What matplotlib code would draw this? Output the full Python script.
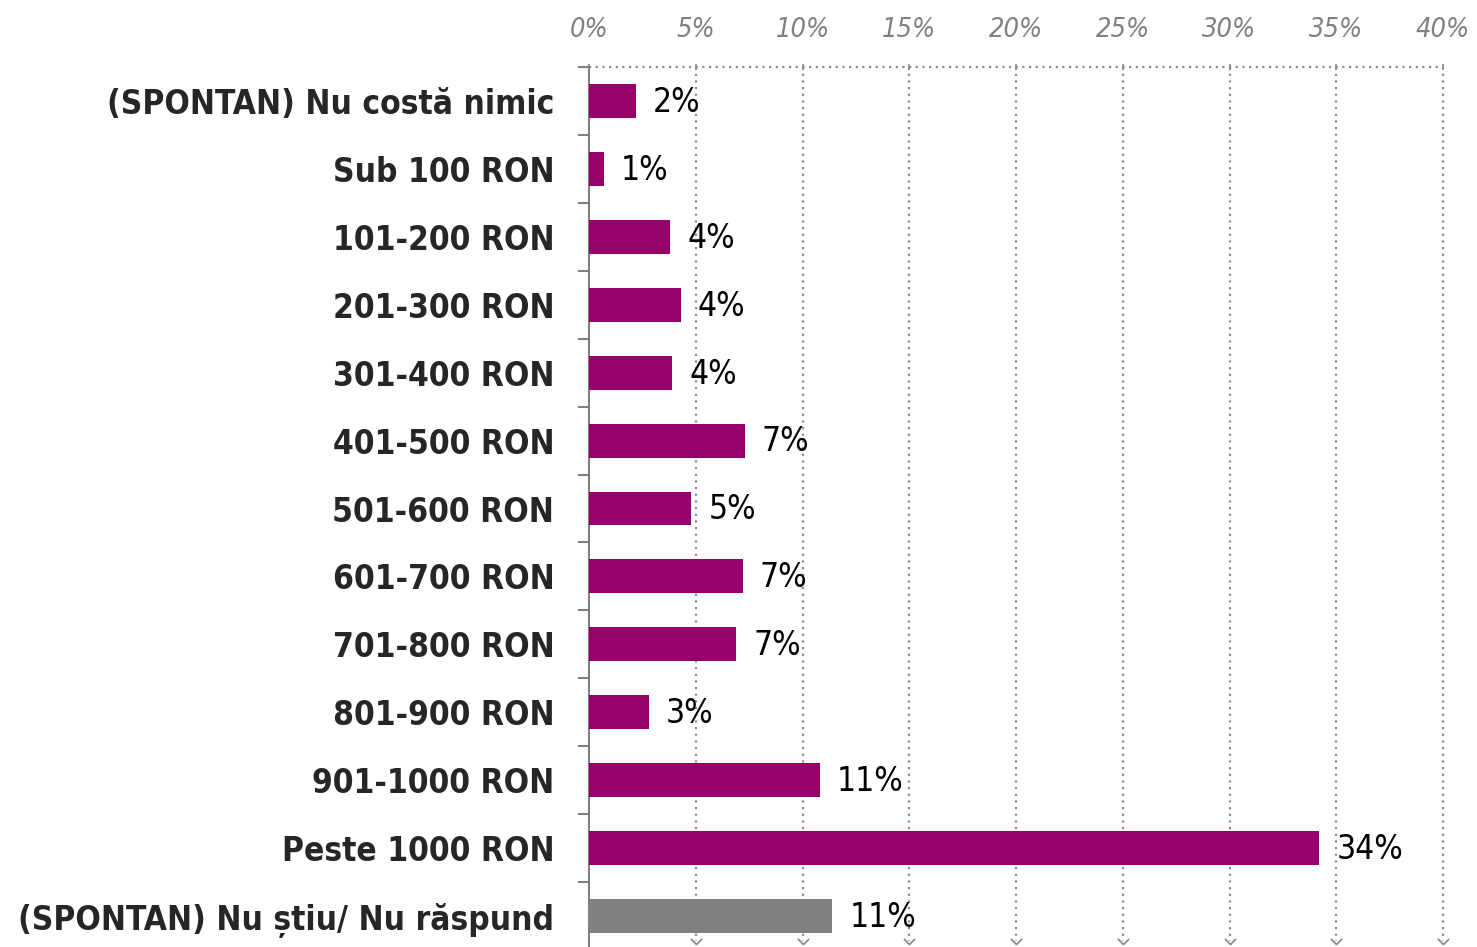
import numpy as np
import matplotlib
matplotlib.use("Agg")
import matplotlib.pyplot as plt
from matplotlib.path import Path

categories = [
    "(SPONTAN) Nu costă nimic",
    "Sub 100 RON",
    "101-200 RON",
    "201-300 RON",
    "301-400 RON",
    "401-500 RON",
    "501-600 RON",
    "601-700 RON",
    "701-800 RON",
    "801-900 RON",
    "901-1000 RON",
    "Peste 1000 RON",
    "(SPONTAN) Nu știu/ Nu răspund",
]
values = [2.2, 0.7, 3.8, 4.3, 3.9, 7.3, 4.8, 7.2, 6.9, 2.8, 10.8, 34.2, 11.4]
is_dont_know = [False] * 12 + [True]
x_ticks = [0, 5, 10, 15, 20, 25, 30, 35, 40]

PURPLE = "#95006B"
GREY_BAR = "#808080"
GRID = "#8c8c8c"
AXIS = "#808080"

fam = ["DejaVu Sans"]

W, H = 1477, 947
fig = plt.figure(figsize=(W / 100, H / 100), dpi=100)
top_px, bot_px, left_px, right_px = 67, 950, 589, 1443
ax = fig.add_axes([left_px / W, 1 - bot_px / H, (right_px - left_px) / W, (bot_px - top_px) / H])

n = len(categories)
y = np.arange(n)
colors = [GREY_BAR if d else PURPLE for d in is_dont_know]
ax.barh(y, values, height=0.5, color=colors, zorder=3)

ax.set_xlim(0, 40)
ax.set_ylim(n - 0.5, -0.5)

# top x axis
ax.xaxis.tick_top()
ax.set_xticks(x_ticks)
ax.set_xticklabels([f"{t}%" for t in x_ticks], family=fam, stretch="condensed",
                   style="italic", fontsize=19.5, color="#808080")
ax.tick_params(axis="x", which="major", length=5, direction="inout", color=GRID,
               width=1.2, pad=15)

# y axis
ax.set_yticks(y)
ax.set_yticklabels(categories, family=fam, stretch="condensed", fontweight="bold",
                   fontsize=24, color="#262626")
ax.tick_params(axis="y", which="major", length=0, pad=25)
ax.set_yticks(np.arange(-0.5, n - 0.5, 1), minor=True)
ax.tick_params(axis="y", which="minor", length=8, width=1.5, color=AXIS, direction="out")

for s in ["top", "right", "bottom"]:
    ax.spines[s].set_visible(False)
ax.spines["left"].set_color(AXIS)
ax.spines["left"].set_linewidth(1.5)

# dotted grid lines with arrow ends
y_end = -0.5 + (944 - top_px) / ((bot_px - top_px) / n)
chevron = Path([(-1, 1), (0, 0), (1, 1)], [Path.MOVETO, Path.LINETO, Path.LINETO])
for t in x_ticks[1:]:
    ax.plot([t, t], [-0.5, y_end - 0.05], ls=(0, (1, 2)), lw=1.6, color=GRID,
            clip_on=False, zorder=1)
    ax.plot([t], [y_end], marker=chevron, ms=8, mfc="none", mec=GRID, mew=1.3,
            clip_on=False, zorder=1)
ax.plot([0, 40], [-0.5, -0.5], ls=(0, (1, 2)), lw=1.6, color=GRID, clip_on=False, zorder=1)

# value labels
for i, v in enumerate(values):
    ax.text(v + 0.8, i + 0.02, f"{v:.0f}%", va="center", ha="left", family=fam,
            stretch="condensed", fontsize=24, color="black", zorder=4)

fig.savefig("out.png", dpi=100)
